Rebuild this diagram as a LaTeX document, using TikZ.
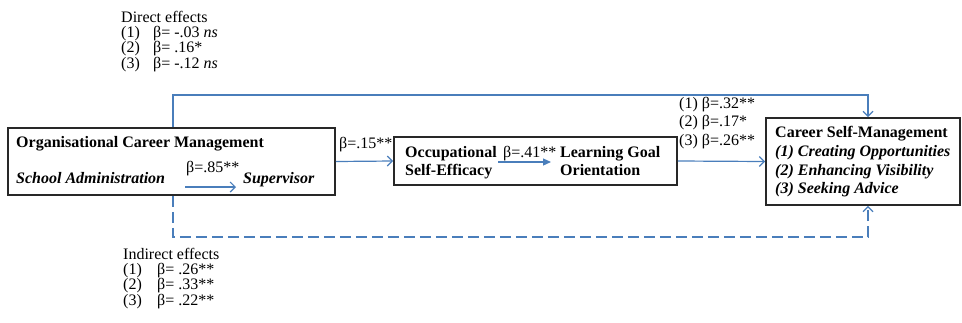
\documentclass[tikz,border=0pt]{standalone}
\usepackage{fontspec}
\setmainfont{Liberation Serif}
\usetikzlibrary{arrows.meta}
\definecolor{arrblue}{RGB}{74,126,187}
\definecolor{boxline}{RGB}{40,40,40}
\tikzset{
  box/.style={draw=boxline, line width=1.8pt, inner sep=0pt},
  txt/.style={anchor=base west, inner sep=0pt, font=\fontsize{16}{18}\selectfont},
  btxt/.style={txt, font=\fontsize{16}{18}\selectfont\bfseries},
  bitxt/.style={txt, font=\fontsize{16}{18}\selectfont\bfseries\itshape},
  conn/.style={draw=arrblue, line width=1.2pt, -{Straight Barb[length=5pt,width=10pt,line width=1.2pt]}},
  dconn/.style={conn, dash pattern=on 11pt off 5pt},
  fconn/.style={draw=arrblue, line width=1.2pt, -{Triangle[length=8pt,width=7pt]}}
}
\begin{document}
\begin{tikzpicture}[x=1pt,y=-1pt]
\useasboundingbox (0,0) rectangle (962,322);
% boxes
\node[box, minimum width=327pt, minimum height=67pt] (ocm) at (171.5,161.5) {};
\node[box, minimum width=283pt, minimum height=48pt] (mid) at (535.5,161) {};
\node[box, minimum width=194pt, minimum height=87pt] (csm) at (863,161.5) {};
% OCM texts
\node[btxt] (ocmt) at (16,147) {Organisational Career Management};
\node[bitxt] (sa) at (16,183) {School Administration};
\node[bitxt] (sup) at (243,183) {Supervisor};
\node[txt] (b85) at (186,172) {β=.85**};
\coordinate (a1) at (185,187);
\coordinate (a2) at (236,187);
\draw[conn] (a1) -- (a2);
% mid texts
\node[btxt] (ose1) at (405,157) {Occupational};
\node[btxt] (ose2) at (405,175) {Self-Efficacy};
\node[btxt] (lgo1) at (560,157) {Learning Goal};
\node[btxt] (lgo2) at (560,175) {Orientation};
\node[txt] (b41) at (503,157) {β=.41**};
\coordinate (c1) at (498,162);
\coordinate (c2) at (551,162);
\draw[fconn] (c1) -- (c2);
% CSM texts
\node[btxt] (csm1) at (775,137) {Career Self-Management};
\node[bitxt] (csm2) at (775,156) {(1) Creating Opportunities};
\node[bitxt] (csm3) at (775,175) {(2) Enhancing Visibility};
\node[bitxt] (csm4) at (775,193) {(3) Seeking Advice};
% connectors between boxes
\draw[conn] (ocm.east) -- (mid.west);
\node[txt] (b15) at (339,148) {β=.15**};
\draw[conn] (mid.east) -- (csm.west);
\node[txt] (r1) at (679,108) {(1) β=.32**};
\node[txt] (r2) at (679,126) {(2) β=.17*};
\node[txt] (r3) at (679,145) {(3) β=.26**};
% direct path
\coordinate (dtop) at (173,95);
\coordinate (dbot) at (173,237);
\draw[conn] (ocm.north -| dtop) -- (dtop) -| ([xshift=5pt]csm.north);
\draw[dconn] (ocm.south -| dbot) -- (dbot) -| ([xshift=5pt]csm.south);
% effects texts
\node[txt] (de) at (121,22) {Direct effects};
\node[txt] (d1n) at (121,37) {(1)};
\node[txt] (d1) at (153,37) {β= -.03 \textit{ns}};
\node[txt] (d2n) at (121,52) {(2)};
\node[txt] (d2) at (153,52) {β= .16*};
\node[txt] (d3n) at (121,68) {(3)};
\node[txt] (d3) at (153,68) {β= -.12 \textit{ns}};
\node[txt] (ie) at (123,259) {Indirect effects};
\node[txt] (i1n) at (123,274) {(1)};
\node[txt] (i1) at (157,274) {β= .26**};
\node[txt] (i2n) at (123,289) {(2)};
\node[txt] (i2) at (157,289) {β= .33**};
\node[txt] (i3n) at (123,305) {(3)};
\node[txt] (i3) at (157,305) {β= .22**};
\end{tikzpicture}
\end{document}
